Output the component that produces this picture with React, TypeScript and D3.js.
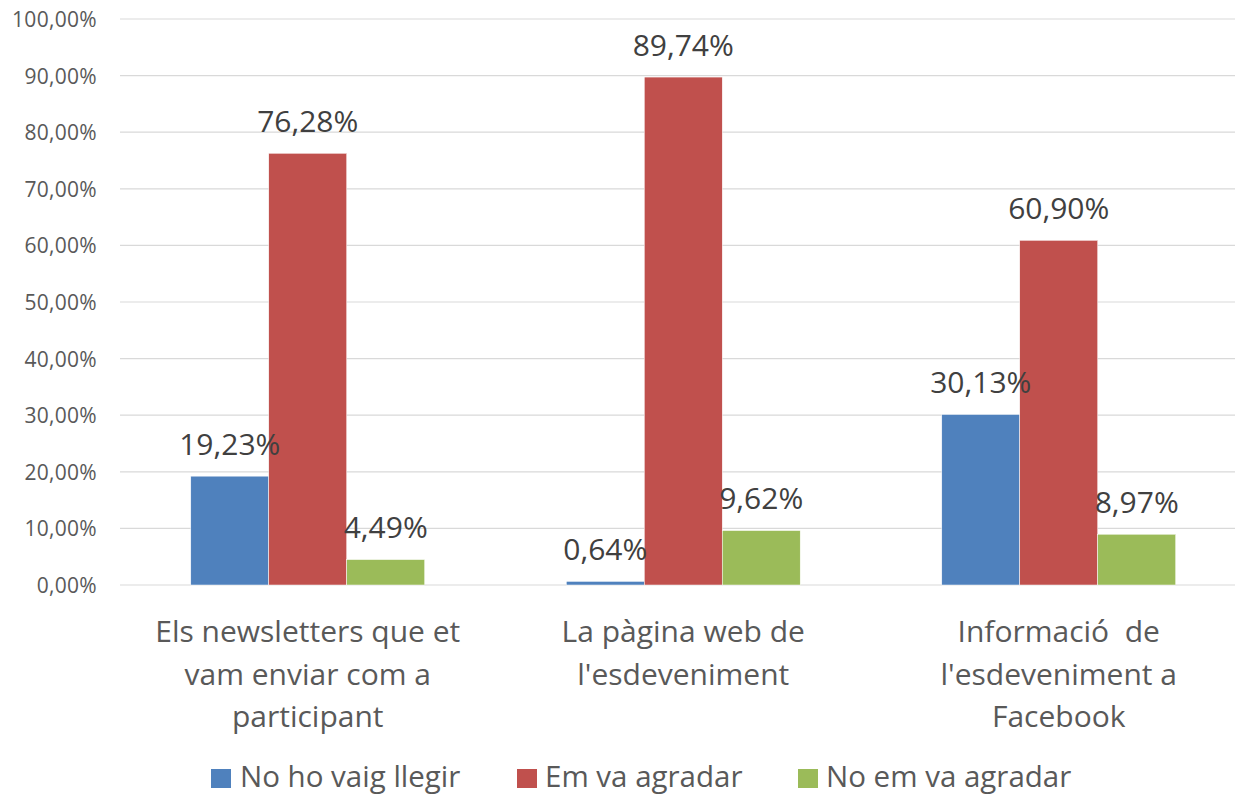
import React from "react";
import * as d3 from "d3";

const categories = [
  "Els newsletters que et\nvam enviar com a\nparticipant",
  "La pàgina web de\nl'esdeveniment",
  "Informació  de\nl'esdeveniment a\nFacebook",
];
const seriesNames = ["No ho vaig llegir", "Em va agradar", "No em va agradar"];
const seriesColors = ["#4F81BD", "#C0504D", "#9BBB59"];
const noHoVaigLlegir = [19.23, 0.64, 30.13];
const emVaAgradar = [76.28, 89.74, 60.9];
const noEmVaAgradar = [4.49, 9.62, 8.97];
const yTicks = [0, 10, 20, 30, 40, 50, 60, 70, 80, 90, 100];

const W = 1235;
const H = 796;
const FONT = "'Open Sans', sans-serif";

export default function App() {
  const series = [noHoVaigLlegir, emVaAgradar, noEmVaAgradar];
  const y = d3.scaleLinear().domain([0, 100]).range([585, 19]);
  const x0 = d3
    .scaleBand<number>()
    .domain(categories.map((_, i) => i))
    .range([120, 1246.5])
    .paddingInner(0.377)
    .paddingOuter(0.1885);
  const x1 = d3
    .scaleBand<number>()
    .domain(series.map((_, i) => i))
    .range([0, x0.bandwidth()]);
  const fmt = (v: number) => v.toFixed(2).replace(".", ",") + "%";

  const legendItems = [
    { sx: 211, tx: 240 },
    { sx: 517, tx: 545 },
    { sx: 798, tx: 826 },
  ];

  return (
    <div style={{ position: "absolute", left: 0, top: 0 }}>
      <svg width={W} height={H} style={{ display: "block", background: "#fff" }}>
        {yTicks.map((t) => (
          <g key={t}>
            <line x1={120} x2={1246} y1={y(t)} y2={y(t)} stroke="#d9d9d9" strokeWidth={1.2} />
            <text
              x={97}
              y={y(t)}
              textAnchor="end"
              dominantBaseline="central"
              fontFamily={FONT}
              fontSize={21}
              letterSpacing={0.3}
              fill="#595959"
            >
              {t.toFixed(2).replace(".", ",") + "%"}
            </text>
          </g>
        ))}
        {categories.map((c, ci) => (
          <g key={ci} transform={`translate(${x0(ci)},0)`}>
            {series.map((s, si) => (
              <rect
                key={si}
                x={x1(si)}
                y={y(s[ci])}
                width={x1.bandwidth()}
                height={y(0) - y(s[ci])}
                fill={seriesColors[si]}
                stroke="#ffffff"
                strokeWidth={0.5}
              />
            ))}
            {series.map((s, si) => (
              <text
                key={"l" + si}
                x={(x1(si) as number) + x1.bandwidth() / 2}
                y={y(s[ci]) - 21.5}
                textAnchor="middle"
                fontFamily={FONT}
                fontSize={30}
                fill="#404040"
              >
                {fmt(s[ci])}
              </text>
            ))}
            {c.split("\n").map((line, li) => (
              <text
                key={"c" + li}
                x={x0.bandwidth() / 2}
                y={642 + li * 42.5}
                textAnchor="middle"
                fontFamily={FONT}
                fontSize={30}
                fill="#595959"
                style={{ whiteSpace: "pre" }}
              >
                {line}
              </text>
            ))}
          </g>
        ))}
        {seriesNames.map((n, i) => (
          <g key={n}>
            <rect x={legendItems[i].sx} y={769} width={20} height={19} fill={seriesColors[i]} />
            <text
              x={legendItems[i].tx}
              y={787}
              fontFamily={FONT}
              fontSize={29.5}
              fill="#595959"
            >
              {n}
            </text>
          </g>
        ))}
      </svg>
    </div>
  );
}
